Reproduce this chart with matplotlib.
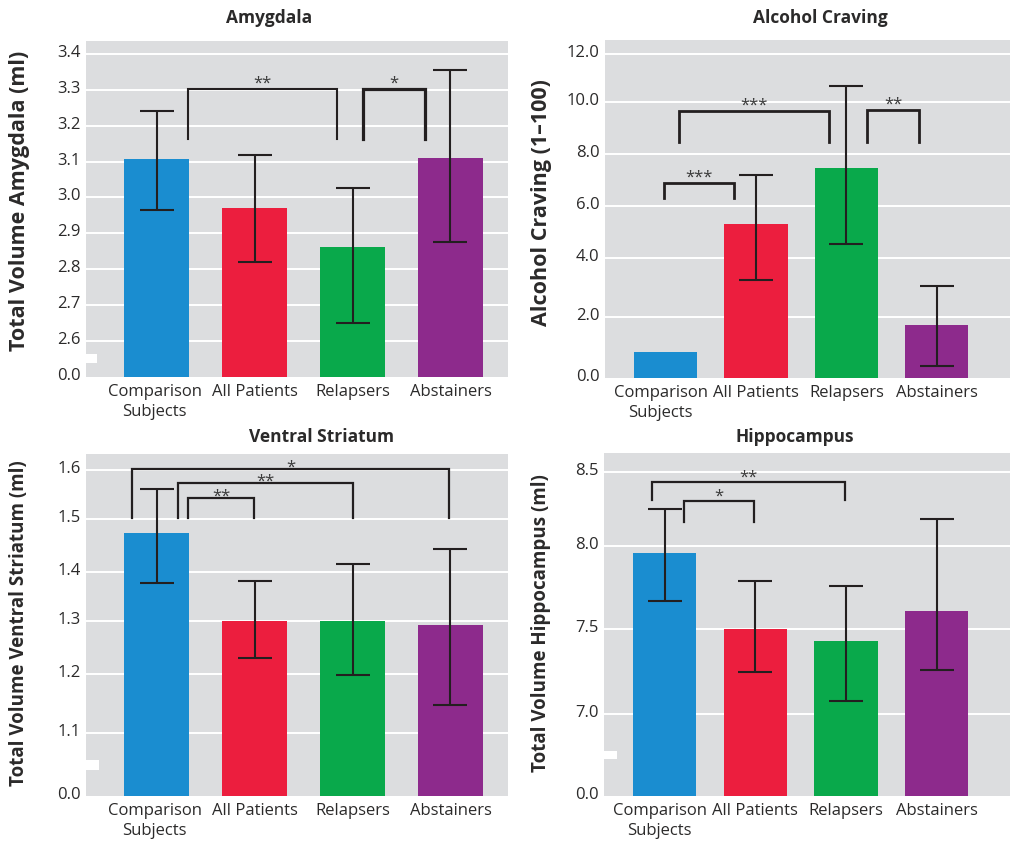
import numpy as np
import matplotlib
matplotlib.use("Agg")
import matplotlib.pyplot as plt
from matplotlib.patches import Rectangle
from matplotlib.transforms import ScaledTranslation

plt.rcParams['font.family'] = ['Open Sans', 'DejaVu Sans']

# ---------------- data ----------------
groups = ["Comparison\nSubjects", "All Patients", "Relapsers", "Abstainers"]
colors = ["#1a8dd0", "#ec1e3e", "#09a94b", "#8d2a8c"]

amyg_mean = [3.108, 2.970, 2.862, 3.111]
amyg_lo = [2.964, 2.820, 2.651, 2.877]
amyg_hi = [3.240, 3.117, 3.025, 3.354]
amyg_ticks = [0.0, 2.6, 2.7, 2.8, 2.9, 3.0, 3.1, 3.2, 3.3, 3.4]

crav_mean = [0.85, 5.31, 7.46, 1.74]
crav_lo = [np.nan, 3.24, 4.54, 0.40]
crav_hi = [np.nan, 7.19, 10.65, 3.06]
crav_ticks = [0.0, 2.0, 4.0, 6.0, 8.0, 10.0, 12.0]

vs_mean = [1.473, 1.300, 1.300, 1.292]
vs_lo = [1.378, 1.230, 1.198, 1.147]
vs_hi = [1.561, 1.382, 1.415, 1.443]
vs_ticks = [0.0, 1.1, 1.2, 1.3, 1.4, 1.5, 1.6]

hip_mean = [7.956, 7.500, 7.430, 7.608]
hip_lo = [7.669, 7.247, 7.076, 7.259]
hip_hi = [8.250, 7.789, 7.759, 8.180]
hip_ticks = [0.0, 7.0, 7.5, 8.0, 8.5]

# significance labels (pairs)
amyg_sig = ["**", "*"]
crav_sig = ["***", "***", "**"]
vs_sig = ["*", "**", "**"]
hip_sig = ["**", "*"]

# ---------------- layout ----------------
W, H = 1013, 842
fig = plt.figure(figsize=(W / 100, H / 100), dpi=100)
BG = "#dcdddf"
TXT = "#2b2a2a"
LINE = "#231f20"


def make_scale(knot_vals, knot_px):
    v = np.asarray(knot_vals, float)
    p = -np.asarray(knot_px, float)
    s0 = (p[1] - p[0]) / (v[1] - v[0])
    s1 = (p[-1] - p[-2]) / (v[-1] - v[-2])
    v = np.concatenate([[v[0] - 1000], v, [v[-1] + 1000]])
    p = np.concatenate([[p[0] - 1000 * s0], p, [p[-1] + 1000 * s1]])

    def fwd(x):
        return np.interp(x, v, p)

    def inv(y):
        return np.interp(y, p, v)
    return fwd, inv


def axes_px(l, t, r, b):
    return fig.add_axes([l / W, 1 - b / H, (r - l) / W, (b - t) / H])


panels = [
    dict(rect=(86, 41, 508, 377), mean=amyg_mean, lo=amyg_lo, hi=amyg_hi,
         ticks=amyg_ticks, knots=([0, 2.6, 3.4], [377, 341, 54]), ytop=3.436,
         xlim=(-0.72, 3.587), bw=0.67, ylabel="Total Volume Amygdala (ml)",
         ylab_pos=(-0.133, 0.524), ylab_fs=15.5, ylab_w="bold",
         title="Amygdala", title_xy=(269, 18), first_shift=-2,
         brk=(354, 363, 11),
         brackets=[(0.32, 1.84, 3.303, 3.164, 1.5), (2.107, 2.74, 3.303, 3.164, 2.3)],
         sig=amyg_sig, star_off=1.0),
    dict(rect=(605, 40, 1010, 378), mean=crav_mean, lo=crav_lo, hi=crav_hi,
         ticks=crav_ticks,
         knots=([0, 2, 4, 6, 8, 10, 12], [378, 317, 258, 206, 154, 102, 54]), ytop=12.58,
         xlim=(-0.67, 3.81), bw=0.70, ylabel="Alcohol Craving (1\u2013100)",
         ylab_pos=(-0.131, 0.518), ylab_fs=15.5, ylab_w="bold",
         title="Alcohol Craving", title_xy=(820, 18), first_shift=-5,
         brk=None,
         brackets=[(-0.02, 0.757, 6.88, 6.30, 2.0), (0.15, 1.81, 9.65, 8.47, 2.0),
                   (2.23, 2.80, 9.68, 8.47, 2.0)],
         sig=crav_sig, star_off=1.0),
    dict(rect=(86, 454, 508, 796), mean=vs_mean, lo=vs_lo, hi=vs_hi,
         ticks=vs_ticks,
         knots=([0, 1.1, 1.2, 1.3, 1.4, 1.5, 1.6], [796, 733, 674, 621, 572, 519, 470]),
         ytop=1.633, xlim=(-0.72, 3.587), bw=0.67,
         ylabel="Total Volume Ventral Striatum (ml)",
         ylab_pos=(-0.135, 0.506), ylab_fs=13.5, ylab_w="bold",
         title="Ventral Striatum", title_xy=(321, 437), first_shift=-2,
         brk=(760, 770, 13),
         brackets=[(-0.247, 2.98, 1.602, 1.502, 1.6), (0.216, 2.0, 1.573, 1.502, 1.6),
                   (0.324, 0.995, 1.543, 1.502, 1.6)],
         sig=vs_sig, star_off=-1.5),
    dict(rect=(604, 453, 1010, 796), mean=hip_mean, lo=hip_lo, hi=hip_hi,
         ticks=hip_ticks,
         knots=([0, 7.0, 7.5, 8.0, 8.5], [796, 714, 629, 546, 472]), ytop=8.628,
         xlim=(-0.67, 3.81), bw=0.70, ylabel="Total Volume Hippocampus (ml)",
         ylab_pos=(-0.130, 0.504), ylab_fs=13.5, ylab_w="bold",
         title="Hippocampus", title_xy=(795, 437), first_shift=-5,
         brk=(751, 759, 13),
         brackets=[(-0.143, 1.99, 8.432, 8.311, 1.6), (0.215, 0.98, 8.306, 8.162, 1.6)],
         sig=hip_sig, star_off=0.0),
]

for p in panels:
    l, t, r, b = p["rect"]
    ax = axes_px(l, t, r, b)
    ax.set_facecolor(BG)
    fwd, inv = make_scale(*p["knots"])
    ax.set_yscale("function", functions=(fwd, inv))
    ax.set_ylim(0, p["ytop"])
    ax.set_xlim(*p["xlim"])
    for s in ax.spines.values():
        s.set_visible(False)

    x = np.arange(len(groups))
    mean = np.asarray(p["mean"])
    lo = np.asarray(p["lo"])
    hi = np.asarray(p["hi"])

    for tv in p["ticks"][1:]:
        ax.axhline(tv, color="white", lw=1.4, zorder=0.5)

    ax.bar(x, mean, width=p["bw"], color=colors, zorder=2)
    m = ~np.isnan(lo)
    ax.errorbar(x[m], mean[m], yerr=[mean[m] - lo[m], hi[m] - mean[m]], fmt="none",
                ecolor=LINE, elinewidth=1.5, capsize=12, capthick=1.5, zorder=3)

    ax.set_yticks(p["ticks"])
    ax.set_yticklabels([f"{v:.1f}" for v in p["ticks"]])
    ax.set_xticks(x)
    ax.set_xticklabels(groups, linespacing=1.35)
    ax.tick_params(axis="both", length=0, labelsize=12, labelcolor=TXT)
    ax.tick_params(axis="y", pad=4)
    ax.tick_params(axis="x", pad=5)
    ax.minorticks_off()

    up = ScaledTranslation(0, 3 / 100, fig.dpi_scale_trans)
    for lab in ax.get_yticklabels():
        lab.set_transform(lab.get_transform() + up)
    xl = ax.get_xticklabels()[0]
    xl.set_transform(xl.get_transform() + ScaledTranslation(p["first_shift"] / 100, 0, fig.dpi_scale_trans))

    ax.set_ylabel(p["ylabel"], fontsize=p["ylab_fs"], fontweight=p["ylab_w"], color=TXT)
    ax.yaxis.set_label_coords(*p["ylab_pos"])

    for (x1, x2, ytop, yleg, lw), lab in zip(p["brackets"], p["sig"]):
        ax.plot([x1, x1, x2, x2], [yleg, ytop, ytop, yleg], color=LINE, lw=lw,
                solid_joinstyle="miter", zorder=4, clip_on=False)
        ax.annotate(lab, ((x1 + x2) / 2, ytop), xytext=(0, p["star_off"]),
                    textcoords="offset points", ha="center", va="baseline",
                    fontsize=12, color="#3a3a3a", zorder=5)

    if p["brk"] is not None:
        y0, y1, wpx = p["brk"]
        ax.add_patch(Rectangle((0, (b - y1) / (b - t)), wpx / (r - l), (y1 - y0) / (b - t),
                               transform=ax.transAxes, facecolor="white",
                               edgecolor="none", zorder=6, clip_on=False))

    tx, ty = p["title_xy"]
    fig.text(tx / W, 1 - ty / H, p["title"], ha="center", va="center",
             fontsize=12.5, fontweight="bold", color=TXT)

fig.savefig("out.png", dpi=100, facecolor="white")
